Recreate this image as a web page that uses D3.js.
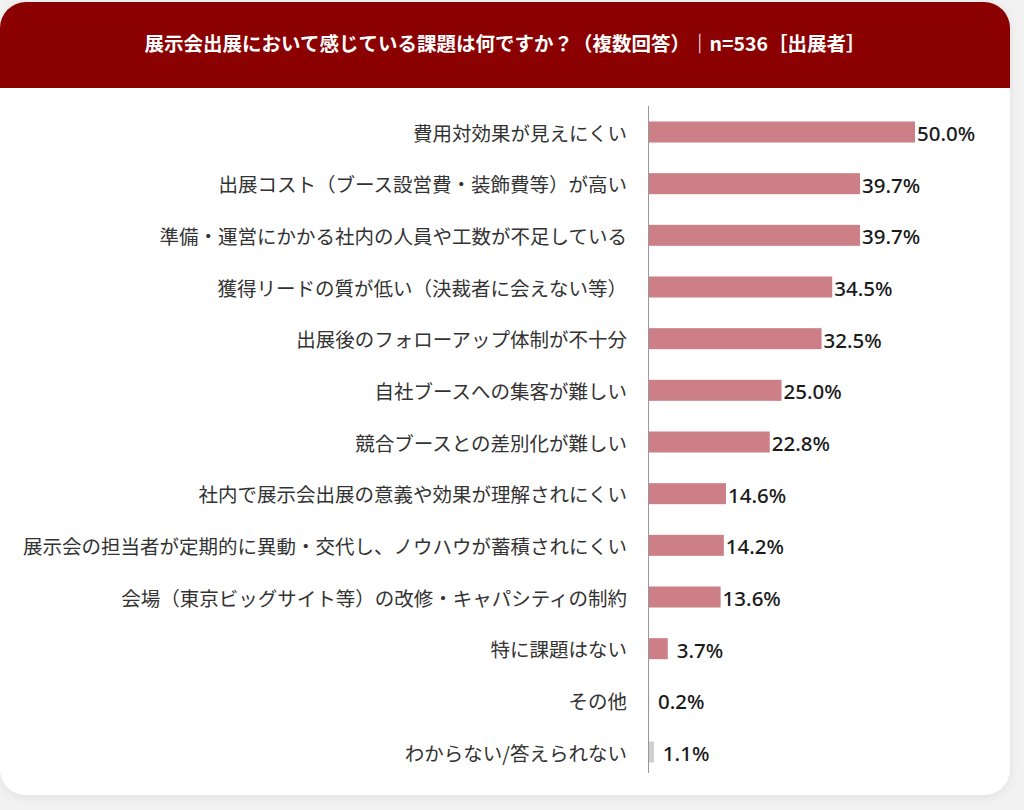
<!DOCTYPE html>
<html>
<head>
<meta charset="utf-8">
<script src="https://cdn.jsdelivr.net/npm/d3@7"></script>
<style>
  html, body { margin: 0; padding: 0; background: #f2f2f2; }
  svg { display: block; }
</style>
</head>
<body>
<svg id="chart" width="1024" height="810"></svg>
<script>
// --- Data ---

const title = '展示会出展において感じている課題は何ですか？（複数回答）｜n=536［出展者］';

const categories = [
  '費用対効果が見えにくい',
  '出展コスト（ブース設営費・装飾費等）が高い',
  '準備・運営にかかる社内の人員や工数が不足している',
  '獲得リードの質が低い（決裁者に会えない等）',
  '出展後のフォローアップ体制が不十分',
  '自社ブースへの集客が難しい',
  '競合ブースとの差別化が難しい',
  '社内で展示会出展の意義や効果が理解されにくい',
  '展示会の担当者が定期的に異動・交代し、ノウハウが蓄積されにくい',
  '会場（東京ビッグサイト等）の改修・キャパシティの制約',
  '特に課題はない',
  'その他',
  'わからない/答えられない'
];

const values = [50.0, 39.7, 39.7, 34.5, 32.5, 25.0, 22.8, 14.6, 14.2, 13.6, 3.7, 0.2, 1.1];

// last answer is drawn in grey
const greyCategories = ['わからない/答えられない'];

// --- Layout ---

const card = { x: 0, y: 2, w: 1010, h: 793, r: 26 };
const headerH = 86;

const svg = d3.select('#chart');

const defs = svg.append('defs');
const shadow = defs.append('filter').attr('id', 'shadow')
  .attr('x', '-5%').attr('y', '-5%').attr('width', '110%').attr('height', '110%');
shadow.append('feDropShadow')
  .attr('dx', 0).attr('dy', 2).attr('stdDeviation', 5)
  .attr('flood-color', '#000').attr('flood-opacity', 0.08);

defs.append('clipPath').attr('id', 'card-clip')
  .append('rect')
  .attr('x', card.x).attr('y', card.y)
  .attr('width', card.w).attr('height', card.h)
  .attr('rx', card.r);

// Card
svg.append('rect')
  .attr('x', card.x).attr('y', card.y)
  .attr('width', card.w).attr('height', card.h)
  .attr('rx', card.r)
  .attr('fill', '#fff')
  .attr('filter', 'url(#shadow)');

// Header band
svg.append('rect')
  .attr('clip-path', 'url(#card-clip)')
  .attr('x', card.x).attr('y', card.y)
  .attr('width', card.w).attr('height', headerH)
  .attr('fill', '#8b0000');

svg.append('text')
  .attr('x', 505).attr('y', card.y + headerH / 2 + 1)
  .attr('text-anchor', 'middle')
  .attr('dominant-baseline', 'middle')
  .attr('fill', '#fff')
  .attr('font-family', '"Noto Sans CJK JP", "Noto Sans", sans-serif')
  .attr('font-weight', 700)
  .attr('font-size', 19.5)
  .text(title);

// --- Scales ---

const x0 = 648;
const x = d3.scaleLinear().domain([0, 50]).range([x0, 915]);

const y = d3.scalePoint()
  .domain(categories)
  .range([132, 752]);

const barH = 21;

// Category labels
svg.append('g')
  .selectAll('text')
  .data(categories)
  .join('text')
  .attr('x', 627)
  .attr('y', d => y(d))
  .attr('text-anchor', 'end')
  .attr('dominant-baseline', 'central')
  .attr('fill', '#333')
  .attr('font-family', '"Noto Sans CJK JP", sans-serif')
  .attr('font-size', 19.5)
  .text(d => d);

// Bars
const rows = categories.map((c, i) => ({ cat: c, val: values[i] }));

svg.append('g')
  .selectAll('rect')
  .data(rows)
  .join('rect')
  .attr('x', x0)
  .attr('y', d => y(d.cat) - barH / 2)
  .attr('width', d => x(d.val) - x0)
  .attr('height', barH)
  .attr('fill', d => greyCategories.includes(d.cat) ? '#cfcfcf' : '#cc7f87');

// Value labels
svg.append('g')
  .selectAll('text')
  .data(rows)
  .join('text')
  .attr('x', d => x(d.val) + (d.val < 5 ? 9 : 2))
  .attr('y', d => y(d.cat) + 1)
  .attr('dominant-baseline', 'central')
  .attr('fill', '#1a1a1a')
  .attr('font-family', '"Noto Sans", "Open Sans", sans-serif')
  .attr('font-weight', 500)
  .attr('font-size', 20.5)
  .text(d => d.val.toFixed(1) + '%');

// Axis line
svg.append('line')
  .attr('x1', x0 + 0.5).attr('x2', x0 + 0.5)
  .attr('y1', 106).attr('y2', 773)
  .attr('stroke', '#999')
  .attr('stroke-width', 1);
</script>
</body>
</html>
